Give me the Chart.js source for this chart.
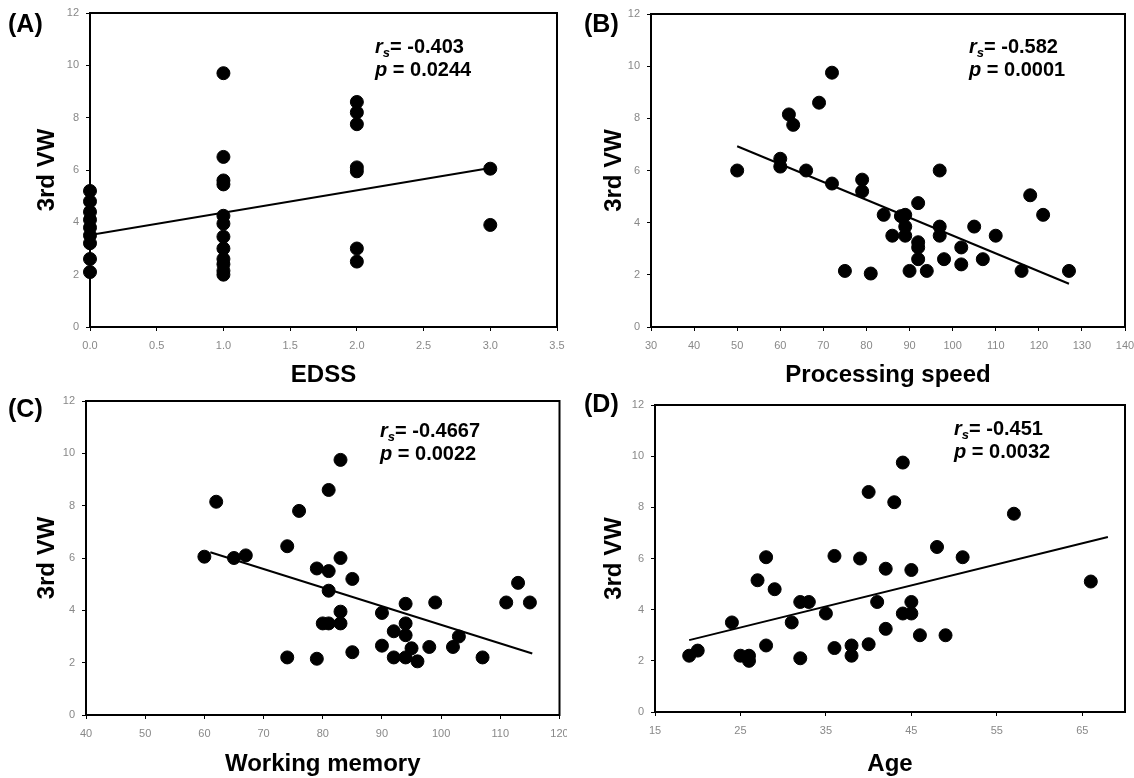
<!DOCTYPE html>
<html>
<head>
<meta charset="utf-8">
<script src="https://cdn.jsdelivr.net/npm/chart.js@4.4.1/dist/chart.umd.min.js"></script>
<style>
  body { margin: 0; background: #fff; }
  .grid { display: grid; grid-template-columns: 567px 567px; grid-template-rows: 389px 389px; width: 1134px; height: 778px; }
  canvas { display: block; }
</style>
</head>
<body>
<div class="grid">
  <canvas id="chartA" width="567" height="389"></canvas>
  <canvas id="chartB" width="567" height="389"></canvas>
  <canvas id="chartC" width="567" height="389"></canvas>
  <canvas id="chartD" width="567" height="389"></canvas>
</div>
<script>
// shared y axis
var yTicks = [0, 2, 4, 6, 8, 10, 12];

// (A) EDSS
var edssTicks = [0, 0.5, 1, 1.5, 2, 2.5, 3, 3.5];
var edssX = [0, 0, 0, 0, 0, 0, 0, 0, 0,
             1, 1, 1, 1, 1, 1, 1, 1, 1, 1, 1, 1,
             2, 2, 2, 2, 2, 2, 2,
             3, 3];
var edssY = [5.2, 4.8, 4.4, 4.1, 3.8, 3.5, 3.2, 2.6, 2.1,
             9.7, 6.5, 5.6, 5.45, 4.25, 3.95, 3.45, 3.0, 2.6, 2.4, 2.15, 2.0,
             8.6, 8.2, 7.75, 6.1, 5.95, 3.0, 2.5,
             6.05, 3.9];
var edssFitX = [0, 3];
var edssFitY = [3.52, 6.08];

// (B) Processing speed
var procTicks = [30, 40, 50, 60, 70, 80, 90, 100, 110, 120, 130, 140];
var procX = [50, 72, 69, 62, 63, 60, 60, 66, 72, 79, 79, 84, 86, 88, 89, 89, 89, 92, 92, 92, 92, 90, 94,
             97, 97, 97, 98, 102, 102, 105, 107, 110, 116, 118, 121, 127, 75, 81];
var procY = [6.0, 9.75, 8.6, 8.15, 7.75, 6.45, 6.15, 6.0, 5.5, 5.65, 5.2, 4.3, 3.5, 4.25, 4.3, 3.85, 3.5, 4.75, 3.25, 3.05, 2.6, 2.15, 2.15,
             6.0, 3.85, 3.5, 2.6, 3.05, 2.4, 3.85, 2.6, 3.5, 2.15, 5.05, 4.3, 2.15, 2.15, 2.05];
var procFitX = [50, 127];
var procFitY = [6.93, 1.66];

// (C) Working memory
var wmTicks = [40, 50, 60, 70, 80, 90, 100, 110, 120];
var wmX = [60, 62, 65, 67, 74, 74, 76, 79, 79, 80, 81, 81, 81, 81, 83, 83, 83, 83, 85, 85,
           90, 90, 92, 92, 94, 94, 94, 94, 95, 96, 98, 99, 102, 103, 107, 111, 113, 115];
var wmY = [6.05, 8.15, 6.0, 6.1, 6.45, 2.2, 7.8, 5.6, 2.15, 3.5, 3.5, 8.6, 5.5, 4.75, 9.75, 6.0, 3.95, 3.5, 5.2, 2.4,
           3.9, 2.65, 3.2, 2.2, 4.25, 3.5, 3.05, 2.2, 2.55, 2.05, 2.6, 4.3, 2.6, 3.0, 2.2, 4.3, 5.05, 4.3];
var wmFitX = [61, 115.4];
var wmFitY = [6.22, 2.35];

// (D) Age
var ageTicks = [15, 25, 35, 45, 55, 65];
var ageX = [19, 20, 24, 25, 26, 26, 27, 28, 28, 29, 31, 32, 33, 32, 35, 36, 36, 38, 38, 39, 40, 40, 41,
            42, 42, 43, 44, 44, 45, 45, 45, 46, 48, 49, 51, 57, 66];
var ageY = [2.2, 2.4, 3.5, 2.2, 2.2, 2.0, 5.15, 2.6, 6.05, 4.8, 3.5, 4.3, 4.3, 2.1, 3.85, 6.1, 2.5, 2.6, 2.2, 6.0, 8.6, 2.65, 4.3,
            5.6, 3.25, 8.2, 9.75, 3.85, 3.85, 4.3, 5.55, 3.0, 6.45, 3.0, 6.05, 7.75, 5.1];
var ageFitX = [19, 68];
var ageFitY = [2.81, 6.84];

function toPoints(xs, ys) {
    return xs.map(function (x, i) { return { x: x, y: ys[i] }; });
}

// box round the plot, panel letter and the correlation text
var panelText = {
    id: 'panelText',
    beforeDatasetsDraw: function (chart) {
        var ctx = chart.ctx, a = chart.chartArea;
        ctx.save();
        ctx.strokeStyle = '#000';
        ctx.lineWidth = 2;
        ctx.strokeRect(a.left, a.top, a.right - a.left, a.bottom - a.top);
        ctx.restore();
    },
    afterDraw: function (chart, args, opts) {
        var ctx = chart.ctx;
        ctx.save();
        ctx.fillStyle = '#000';
        ctx.textBaseline = 'middle';
        ctx.font = 'bold 25px "Liberation Sans"';
        ctx.fillText(opts.label, opts.labelX, opts.labelY);

        var x = opts.statX, y = opts.statY;
        ctx.font = 'italic bold 20px "Liberation Sans"';
        ctx.fillText('r', x, y);
        x += ctx.measureText('r').width;
        ctx.font = 'italic bold 13px "Liberation Sans"';
        ctx.fillText('s', x, y + 6);
        x += ctx.measureText('s').width;
        ctx.font = 'bold 20px "Liberation Sans"';
        ctx.fillText('= ' + opts.r, x, y);

        x = opts.statX;
        y = opts.statY + 23;
        ctx.font = 'italic bold 20px "Liberation Sans"';
        ctx.fillText('p', x, y);
        x += ctx.measureText('p').width;
        ctx.font = 'bold 20px "Liberation Sans"';
        ctx.fillText(' = ' + opts.p, x, y);
        ctx.restore();
    }
};

function makePanel(id, xs, ys, fitX, fitY, xTicks, xMax, xTitle, text, box, decimals) {
    var tickFont = { family: '"Liberation Sans"', size: 11 };
    var titleFont = { family: '"Liberation Sans"', size: 24, weight: 'bold', lineHeight: 1.1 };
    return new Chart(document.getElementById(id), {
        type: 'scatter',
        data: {
            datasets: [{
                data: toPoints(xs, ys),
                backgroundColor: '#000',
                borderColor: '#000',
                pointRadius: 6.5,
                pointHoverRadius: 6.5,
                clip: false
            }, {
                type: 'line',
                data: toPoints(fitX, fitY),
                borderColor: '#000',
                borderWidth: 2,
                pointRadius: 0,
                fill: false
            }]
        },
        options: {
            responsive: false,
            animation: false,
            layout: { padding: { top: box.top, right: 567 - box.right, left: 0, bottom: 0 } },
            plugins: {
                legend: { display: false },
                tooltip: { enabled: false },
                panelText: text
            },
            scales: {
                x: {
                    type: 'linear',
                    min: xTicks[0],
                    max: xMax,
                    afterBuildTicks: function (axis) {
                        axis.ticks = xTicks.map(function (v) { return { value: v }; });
                    },
                    afterFit: function (axis) {
                        axis.height = 389 - box.bottom;
                        axis.paddingLeft = 0;
                        axis.paddingRight = 0;
                    },
                    grid: { drawOnChartArea: false, drawTicks: true, tickLength: 4, color: '#000' },
                    border: { display: true, color: '#000', width: 2 },
                    ticks: {
                        color: '#888',
                        font: tickFont,
                        padding: 8,
                        maxRotation: 0,
                        autoSkip: false,
                        callback: function (v) { return decimals ? Number(v).toFixed(1) : v; }
                    },
                    title: { display: true, text: xTitle, color: '#000', font: titleFont, padding: { top: 0, bottom: 0 } }
                },
                y: {
                    min: 0,
                    max: 12,
                    afterBuildTicks: function (axis) {
                        axis.ticks = yTicks.map(function (v) { return { value: v }; });
                    },
                    afterFit: function (axis) {
                        axis.width = box.left;
                        axis.paddingTop = 0;
                        axis.paddingBottom = 0;
                    },
                    grid: { drawOnChartArea: false, drawTicks: true, tickLength: 4, color: '#000' },
                    border: { display: true, color: '#000', width: 2 },
                    ticks: { color: '#888', font: tickFont, padding: 7 },
                    title: { display: true, text: '3rd VW', color: '#000', font: titleFont, padding: { top: 34, bottom: 0 } }
                }
            }
        },
        plugins: [panelText]
    });
}

makePanel('chartA', edssX, edssY, edssFitX, edssFitY, edssTicks, 3.5, 'EDSS',
    { label: '(A)', labelX: 8, labelY: 25, statX: 375, statY: 47, r: '-0.403', p: '0.0244' },
    { left: 90, right: 557, top: 13, bottom: 327 }, true);
makePanel('chartB', procX, procY, procFitX, procFitY, procTicks, 140, 'Processing speed',
    { label: '(B)', labelX: 17, labelY: 25, statX: 402, statY: 47, r: '-0.582', p: '0.0001' },
    { left: 84, right: 558, top: 14, bottom: 327 }, false);
makePanel('chartC', wmX, wmY, wmFitX, wmFitY, wmTicks, 120, 'Working memory',
    { label: '(C)', labelX: 8, labelY: 21, statX: 380, statY: 42, r: '-0.4667', p: '0.0022' },
    { left: 86, right: 560, top: 12, bottom: 326 }, false);
makePanel('chartD', ageX, ageY, ageFitX, ageFitY, ageTicks, 70, 'Age',
    { label: '(D)', labelX: 17, labelY: 16, statX: 387, statY: 40, r: '-0.451', p: '0.0032' },
    { left: 88, right: 558, top: 16, bottom: 323 }, false);
</script>
</body>
</html>
